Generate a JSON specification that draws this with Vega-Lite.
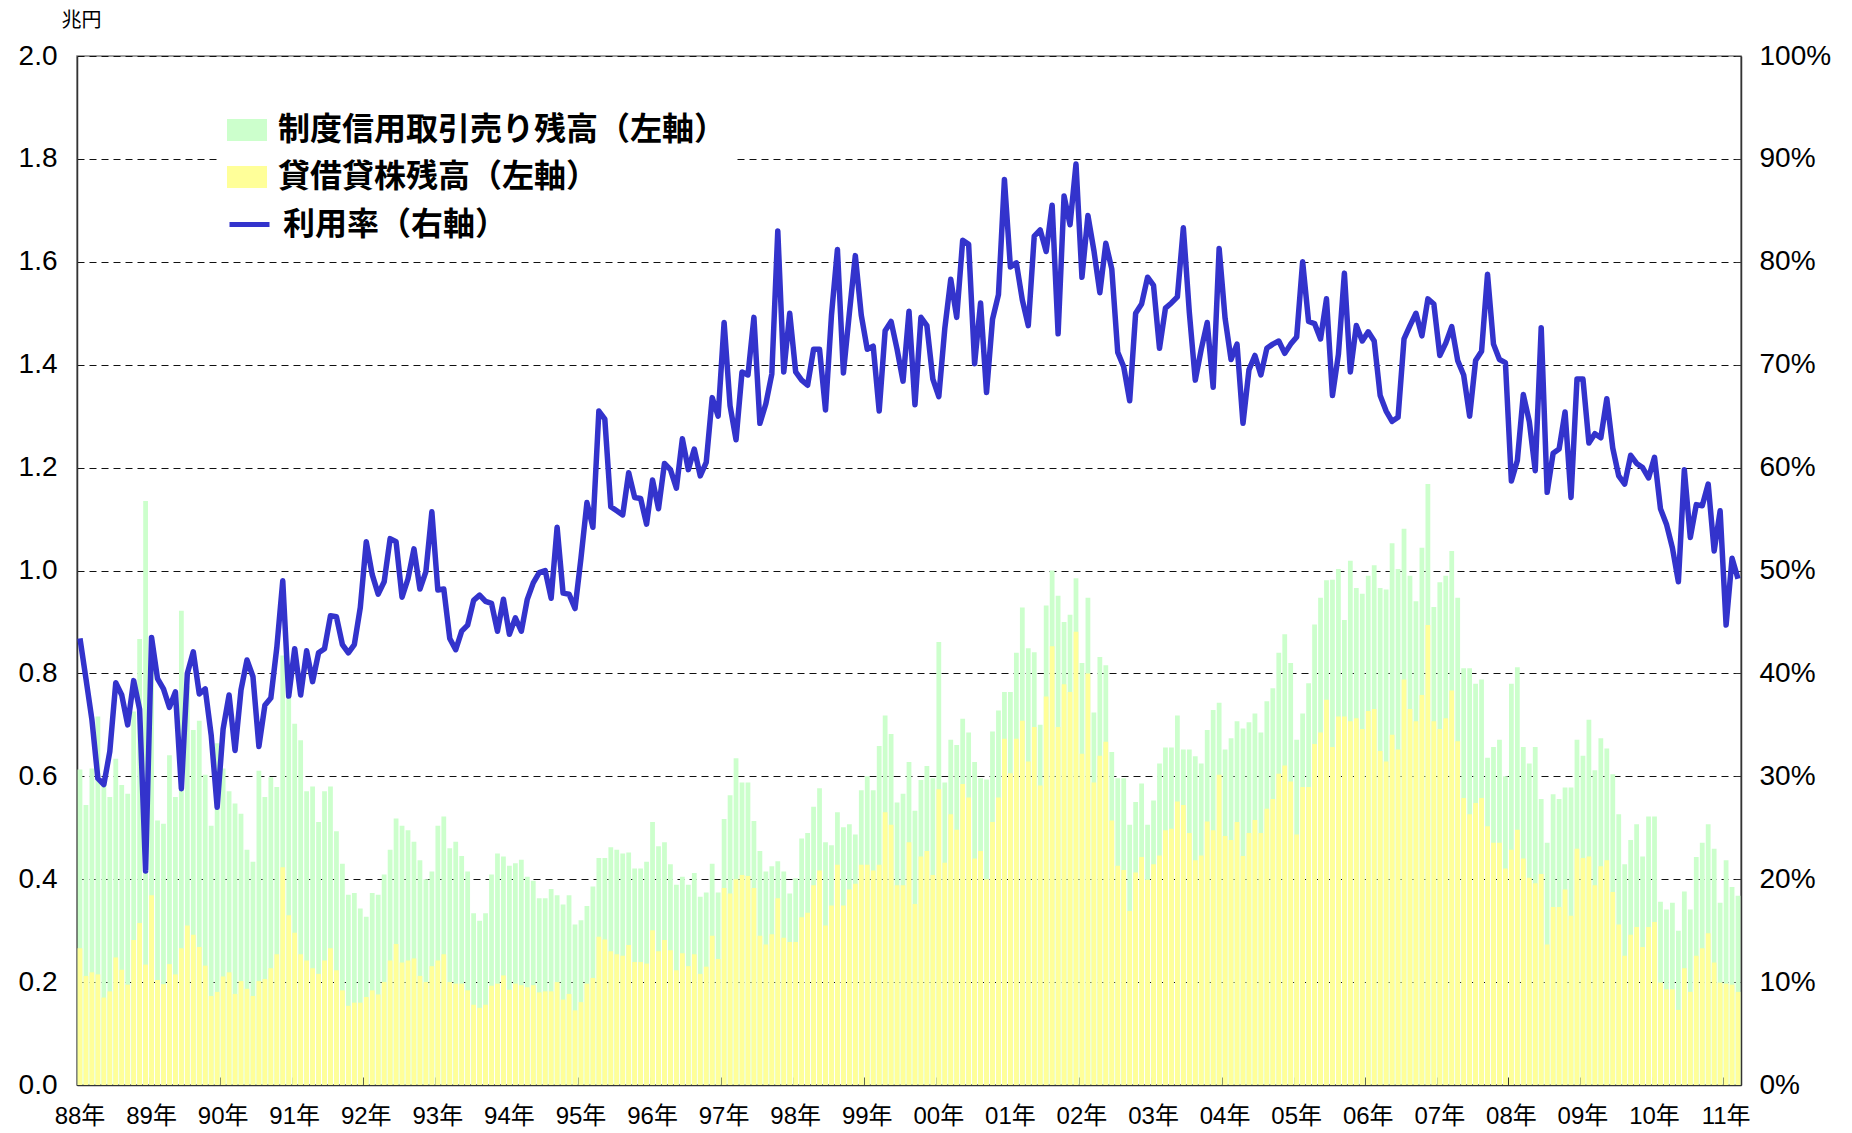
{
"$schema": "https://vega.github.io/schema/vega-lite/v6.json",
"width": 1664, "height": 1029,
"autosize": {"type": "none"},
"padding": {"left": 77, "top": 56, "right": 111, "bottom": 48},
"background": "white",
"config": {"view": {"stroke": "#808080", "strokeWidth": 1.5}, "font": "Liberation Sans"},
"data": {"values": [
{"ym":"1988-01","sell":0.613,"lend":0.266,"rate":43.4},{"ym":"1988-02","sell":0.544,"lend":0.212,"rate":39.5},{"ym":"1988-03","sell":0.615,"lend":0.219,"rate":35.5},{"ym":"1988-04","sell":0.716,"lend":0.215,"rate":29.8},{"ym":"1988-05","sell":0.589,"lend":0.170,"rate":29.2},{"ym":"1988-06","sell":0.560,"lend":0.182,"rate":32.4},{"ym":"1988-07","sell":0.634,"lend":0.248,"rate":39.1},{"ym":"1988-08","sell":0.583,"lend":0.224,"rate":37.9},{"ym":"1988-09","sell":0.566,"lend":0.195,"rate":35.0},{"ym":"1988-10","sell":0.726,"lend":0.282,"rate":39.3},{"ym":"1988-11","sell":0.867,"lend":0.315,"rate":36.5},{"ym":"1988-12","sell":1.135,"lend":0.234,"rate":20.8},
{"ym":"1989-01","sell":0.850,"lend":0.369,"rate":43.5},{"ym":"1989-02","sell":0.514,"lend":0.204,"rate":39.5},{"ym":"1989-03","sell":0.508,"lend":0.196,"rate":38.5},{"ym":"1989-04","sell":0.641,"lend":0.235,"rate":36.7},{"ym":"1989-05","sell":0.560,"lend":0.215,"rate":38.2},{"ym":"1989-06","sell":0.922,"lend":0.266,"rate":28.8},{"ym":"1989-07","sell":0.775,"lend":0.310,"rate":40.0},{"ym":"1989-08","sell":0.690,"lend":0.292,"rate":42.1},{"ym":"1989-09","sell":0.708,"lend":0.268,"rate":38.0},{"ym":"1989-10","sell":0.603,"lend":0.232,"rate":38.5},{"ym":"1989-11","sell":0.504,"lend":0.173,"rate":34.0},{"ym":"1989-12","sell":0.664,"lend":0.181,"rate":27.0},
{"ym":"1990-01","sell":0.615,"lend":0.211,"rate":34.6},{"ym":"1990-02","sell":0.571,"lend":0.219,"rate":37.9},{"ym":"1990-03","sell":0.547,"lend":0.177,"rate":32.5},{"ym":"1990-04","sell":0.527,"lend":0.202,"rate":38.4},{"ym":"1990-05","sell":0.457,"lend":0.187,"rate":41.3},{"ym":"1990-06","sell":0.434,"lend":0.173,"rate":39.7},{"ym":"1990-07","sell":0.611,"lend":0.202,"rate":32.9},{"ym":"1990-08","sell":0.560,"lend":0.206,"rate":36.9},{"ym":"1990-09","sell":0.598,"lend":0.227,"rate":37.6},{"ym":"1990-10","sell":0.579,"lend":0.254,"rate":42.5},{"ym":"1990-11","sell":0.835,"lend":0.423,"rate":49.0},{"ym":"1990-12","sell":0.754,"lend":0.330,"rate":37.8},
{"ym":"1991-01","sell":0.702,"lend":0.296,"rate":42.4},{"ym":"1991-02","sell":0.670,"lend":0.254,"rate":37.9},{"ym":"1991-03","sell":0.571,"lend":0.242,"rate":42.2},{"ym":"1991-04","sell":0.580,"lend":0.227,"rate":39.2},{"ym":"1991-05","sell":0.511,"lend":0.216,"rate":42.0},{"ym":"1991-06","sell":0.571,"lend":0.242,"rate":42.4},{"ym":"1991-07","sell":0.580,"lend":0.266,"rate":45.6},{"ym":"1991-08","sell":0.493,"lend":0.223,"rate":45.5},{"ym":"1991-09","sell":0.430,"lend":0.184,"rate":42.8},{"ym":"1991-10","sell":0.370,"lend":0.154,"rate":42.0},{"ym":"1991-11","sell":0.373,"lend":0.160,"rate":42.8},{"ym":"1991-12","sell":0.343,"lend":0.160,"rate":46.4},
{"ym":"1992-01","sell":0.327,"lend":0.171,"rate":52.8},{"ym":"1992-02","sell":0.373,"lend":0.184,"rate":49.6},{"ym":"1992-03","sell":0.370,"lend":0.176,"rate":47.7},{"ym":"1992-04","sell":0.409,"lend":0.200,"rate":48.9},{"ym":"1992-05","sell":0.457,"lend":0.242,"rate":53.1},{"ym":"1992-06","sell":0.518,"lend":0.274,"rate":52.8},{"ym":"1992-07","sell":0.504,"lend":0.238,"rate":47.4},{"ym":"1992-08","sell":0.495,"lend":0.242,"rate":49.2},{"ym":"1992-09","sell":0.473,"lend":0.246,"rate":52.1},{"ym":"1992-10","sell":0.437,"lend":0.212,"rate":48.2},{"ym":"1992-11","sell":0.400,"lend":0.200,"rate":49.9},{"ym":"1992-12","sell":0.415,"lend":0.231,"rate":55.7},
{"ym":"1993-01","sell":0.504,"lend":0.242,"rate":48.1},{"ym":"1993-02","sell":0.522,"lend":0.254,"rate":48.2},{"ym":"1993-03","sell":0.460,"lend":0.200,"rate":43.4},{"ym":"1993-04","sell":0.473,"lend":0.197,"rate":42.3},{"ym":"1993-05","sell":0.445,"lend":0.197,"rate":44.1},{"ym":"1993-06","sell":0.415,"lend":0.184,"rate":44.7},{"ym":"1993-07","sell":0.334,"lend":0.156,"rate":47.1},{"ym":"1993-08","sell":0.319,"lend":0.150,"rate":47.6},{"ym":"1993-09","sell":0.334,"lend":0.156,"rate":47.0},{"ym":"1993-10","sell":0.409,"lend":0.193,"rate":46.8},{"ym":"1993-11","sell":0.450,"lend":0.197,"rate":44.1},{"ym":"1993-12","sell":0.444,"lend":0.213,"rate":47.2},
{"ym":"1994-01","sell":0.426,"lend":0.185,"rate":43.8},{"ym":"1994-02","sell":0.431,"lend":0.197,"rate":45.4},{"ym":"1994-03","sell":0.438,"lend":0.194,"rate":44.1},{"ym":"1994-04","sell":0.405,"lend":0.190,"rate":47.2},{"ym":"1994-05","sell":0.397,"lend":0.194,"rate":48.8},{"ym":"1994-06","sell":0.363,"lend":0.180,"rate":49.8},{"ym":"1994-07","sell":0.363,"lend":0.182,"rate":50.0},{"ym":"1994-08","sell":0.381,"lend":0.182,"rate":47.3},{"ym":"1994-09","sell":0.369,"lend":0.200,"rate":54.2},{"ym":"1994-10","sell":0.351,"lend":0.166,"rate":47.8},{"ym":"1994-11","sell":0.369,"lend":0.177,"rate":47.7},{"ym":"1994-12","sell":0.312,"lend":0.145,"rate":46.3},
{"ym":"1995-01","sell":0.320,"lend":0.161,"rate":51.2},{"ym":"1995-02","sell":0.348,"lend":0.197,"rate":56.6},{"ym":"1995-03","sell":0.386,"lend":0.208,"rate":54.2},{"ym":"1995-04","sell":0.441,"lend":0.288,"rate":65.5},{"ym":"1995-05","sell":0.441,"lend":0.283,"rate":64.7},{"ym":"1995-06","sell":0.462,"lend":0.260,"rate":56.2},{"ym":"1995-07","sell":0.457,"lend":0.254,"rate":55.8},{"ym":"1995-08","sell":0.450,"lend":0.251,"rate":55.4},{"ym":"1995-09","sell":0.452,"lend":0.272,"rate":59.5},{"ym":"1995-10","sell":0.421,"lend":0.239,"rate":57.1},{"ym":"1995-11","sell":0.421,"lend":0.239,"rate":57.0},{"ym":"1995-12","sell":0.434,"lend":0.236,"rate":54.5},
{"ym":"1996-01","sell":0.511,"lend":0.301,"rate":58.8},{"ym":"1996-02","sell":0.464,"lend":0.260,"rate":56.0},{"ym":"1996-03","sell":0.472,"lend":0.282,"rate":60.4},{"ym":"1996-04","sell":0.429,"lend":0.262,"rate":59.8},{"ym":"1996-05","sell":0.389,"lend":0.223,"rate":58.0},{"ym":"1996-06","sell":0.405,"lend":0.256,"rate":62.8},{"ym":"1996-07","sell":0.389,"lend":0.231,"rate":59.8},{"ym":"1996-08","sell":0.412,"lend":0.254,"rate":61.8},{"ym":"1996-09","sell":0.366,"lend":0.216,"rate":59.2},{"ym":"1996-10","sell":0.374,"lend":0.230,"rate":60.5},{"ym":"1996-11","sell":0.430,"lend":0.290,"rate":66.8},{"ym":"1996-12","sell":0.374,"lend":0.245,"rate":65.0},
{"ym":"1997-01","sell":0.517,"lend":0.383,"rate":74.1},{"ym":"1997-02","sell":0.563,"lend":0.372,"rate":66.0},{"ym":"1997-03","sell":0.635,"lend":0.400,"rate":62.7},{"ym":"1997-04","sell":0.588,"lend":0.408,"rate":69.3},{"ym":"1997-05","sell":0.588,"lend":0.406,"rate":69.0},{"ym":"1997-06","sell":0.513,"lend":0.383,"rate":74.6},{"ym":"1997-07","sell":0.455,"lend":0.290,"rate":64.3},{"ym":"1997-08","sell":0.415,"lend":0.273,"rate":66.2},{"ym":"1997-09","sell":0.425,"lend":0.293,"rate":69.1},{"ym":"1997-10","sell":0.435,"lend":0.363,"rate":83.0},{"ym":"1997-11","sell":0.415,"lend":0.286,"rate":69.3},{"ym":"1997-12","sell":0.372,"lend":0.278,"rate":75.0},
{"ym":"1998-01","sell":0.402,"lend":0.278,"rate":69.3},{"ym":"1998-02","sell":0.479,"lend":0.326,"rate":68.5},{"ym":"1998-03","sell":0.490,"lend":0.335,"rate":68.0},{"ym":"1998-04","sell":0.541,"lend":0.388,"rate":71.5},{"ym":"1998-05","sell":0.577,"lend":0.417,"rate":71.5},{"ym":"1998-06","sell":0.472,"lend":0.310,"rate":65.6},{"ym":"1998-07","sell":0.466,"lend":0.349,"rate":74.8},{"ym":"1998-08","sell":0.530,"lend":0.428,"rate":81.2},{"ym":"1998-09","sell":0.501,"lend":0.349,"rate":69.2},{"ym":"1998-10","sell":0.507,"lend":0.380,"rate":75.0},{"ym":"1998-11","sell":0.487,"lend":0.391,"rate":80.6},{"ym":"1998-12","sell":0.573,"lend":0.428,"rate":74.8},
{"ym":"1999-01","sell":0.600,"lend":0.428,"rate":71.5},{"ym":"1999-02","sell":0.573,"lend":0.417,"rate":71.8},{"ym":"1999-03","sell":0.659,"lend":0.428,"rate":65.5},{"ym":"1999-04","sell":0.718,"lend":0.530,"rate":73.3},{"ym":"1999-05","sell":0.682,"lend":0.506,"rate":74.2},{"ym":"1999-06","sell":0.549,"lend":0.388,"rate":71.5},{"ym":"1999-07","sell":0.566,"lend":0.388,"rate":68.4},{"ym":"1999-08","sell":0.628,"lend":0.472,"rate":75.2},{"ym":"1999-09","sell":0.533,"lend":0.352,"rate":66.1},{"ym":"1999-10","sell":0.593,"lend":0.444,"rate":74.6},{"ym":"1999-11","sell":0.620,"lend":0.455,"rate":73.8},{"ym":"1999-12","sell":0.596,"lend":0.408,"rate":68.6},
{"ym":"2000-01","sell":0.861,"lend":0.575,"rate":66.9},{"ym":"2000-02","sell":0.588,"lend":0.432,"rate":73.5},{"ym":"2000-03","sell":0.671,"lend":0.526,"rate":78.3},{"ym":"2000-04","sell":0.661,"lend":0.496,"rate":74.6},{"ym":"2000-05","sell":0.712,"lend":0.585,"rate":82.1},{"ym":"2000-06","sell":0.685,"lend":0.559,"rate":81.7},{"ym":"2000-07","sell":0.628,"lend":0.440,"rate":70.1},{"ym":"2000-08","sell":0.596,"lend":0.455,"rate":76.0},{"ym":"2000-09","sell":0.594,"lend":0.400,"rate":67.3},{"ym":"2000-10","sell":0.687,"lend":0.511,"rate":74.4},{"ym":"2000-11","sell":0.728,"lend":0.559,"rate":76.8},{"ym":"2000-12","sell":0.764,"lend":0.673,"rate":88.0},
{"ym":"2001-01","sell":0.764,"lend":0.606,"rate":79.5},{"ym":"2001-02","sell":0.840,"lend":0.673,"rate":79.9},{"ym":"2001-03","sell":0.928,"lend":0.708,"rate":76.3},{"ym":"2001-04","sell":0.849,"lend":0.629,"rate":73.8},{"ym":"2001-05","sell":0.841,"lend":0.696,"rate":82.5},{"ym":"2001-06","sell":0.700,"lend":0.582,"rate":83.1},{"ym":"2001-07","sell":0.932,"lend":0.755,"rate":81.0},{"ym":"2001-08","sell":1.000,"lend":0.853,"rate":85.5},{"ym":"2001-09","sell":0.951,"lend":0.696,"rate":73.0},{"ym":"2001-10","sell":0.900,"lend":0.779,"rate":86.4},{"ym":"2001-11","sell":0.914,"lend":0.764,"rate":83.6},{"ym":"2001-12","sell":0.985,"lend":0.881,"rate":89.5},
{"ym":"2002-01","sell":0.820,"lend":0.644,"rate":78.5},{"ym":"2002-02","sell":0.947,"lend":0.800,"rate":84.5},{"ym":"2002-03","sell":0.724,"lend":0.588,"rate":81.1},{"ym":"2002-04","sell":0.832,"lend":0.640,"rate":77.0},{"ym":"2002-05","sell":0.816,"lend":0.667,"rate":81.8},{"ym":"2002-06","sell":0.647,"lend":0.514,"rate":79.3},{"ym":"2002-07","sell":0.596,"lend":0.426,"rate":71.2},{"ym":"2002-08","sell":0.596,"lend":0.418,"rate":69.8},{"ym":"2002-09","sell":0.506,"lend":0.338,"rate":66.5},{"ym":"2002-10","sell":0.550,"lend":0.413,"rate":75.0},{"ym":"2002-11","sell":0.586,"lend":0.443,"rate":75.9},{"ym":"2002-12","sell":0.506,"lend":0.399,"rate":78.5},
{"ym":"2003-01","sell":0.553,"lend":0.429,"rate":77.7},{"ym":"2003-02","sell":0.625,"lend":0.446,"rate":71.6},{"ym":"2003-03","sell":0.656,"lend":0.495,"rate":75.5},{"ym":"2003-04","sell":0.656,"lend":0.498,"rate":76.0},{"ym":"2003-05","sell":0.718,"lend":0.551,"rate":76.6},{"ym":"2003-06","sell":0.652,"lend":0.544,"rate":83.3},{"ym":"2003-07","sell":0.652,"lend":0.490,"rate":75.1},{"ym":"2003-08","sell":0.639,"lend":0.437,"rate":68.5},{"ym":"2003-09","sell":0.625,"lend":0.446,"rate":71.5},{"ym":"2003-10","sell":0.690,"lend":0.512,"rate":74.1},{"ym":"2003-11","sell":0.729,"lend":0.495,"rate":67.8},{"ym":"2003-12","sell":0.743,"lend":0.603,"rate":81.3},
{"ym":"2004-01","sell":0.652,"lend":0.484,"rate":74.5},{"ym":"2004-02","sell":0.674,"lend":0.476,"rate":70.5},{"ym":"2004-03","sell":0.707,"lend":0.511,"rate":72.0},{"ym":"2004-04","sell":0.693,"lend":0.445,"rate":64.3},{"ym":"2004-05","sell":0.705,"lend":0.490,"rate":69.5},{"ym":"2004-06","sell":0.722,"lend":0.515,"rate":70.9},{"ym":"2004-07","sell":0.685,"lend":0.490,"rate":69.0},{"ym":"2004-08","sell":0.746,"lend":0.537,"rate":71.6},{"ym":"2004-09","sell":0.771,"lend":0.556,"rate":72.0},{"ym":"2004-10","sell":0.840,"lend":0.605,"rate":72.3},{"ym":"2004-11","sell":0.876,"lend":0.621,"rate":71.1},{"ym":"2004-12","sell":0.820,"lend":0.590,"rate":72.0},
{"ym":"2005-01","sell":0.671,"lend":0.487,"rate":72.7},{"ym":"2005-02","sell":0.722,"lend":0.579,"rate":80.0},{"ym":"2005-03","sell":0.781,"lend":0.579,"rate":74.2},{"ym":"2005-04","sell":0.895,"lend":0.663,"rate":74.0},{"ym":"2005-05","sell":0.947,"lend":0.685,"rate":72.5},{"ym":"2005-06","sell":0.981,"lend":0.749,"rate":76.4},{"ym":"2005-07","sell":0.982,"lend":0.657,"rate":67.0},{"ym":"2005-08","sell":1.003,"lend":0.716,"rate":71.0},{"ym":"2005-09","sell":0.904,"lend":0.716,"rate":78.9},{"ym":"2005-10","sell":1.019,"lend":0.707,"rate":69.3},{"ym":"2005-11","sell":0.966,"lend":0.713,"rate":73.8},{"ym":"2005-12","sell":0.955,"lend":0.692,"rate":72.3},
{"ym":"2006-01","sell":0.990,"lend":0.727,"rate":73.2},{"ym":"2006-02","sell":1.010,"lend":0.731,"rate":72.3},{"ym":"2006-03","sell":0.966,"lend":0.649,"rate":67.0},{"ym":"2006-04","sell":0.963,"lend":0.629,"rate":65.5},{"ym":"2006-05","sell":1.053,"lend":0.681,"rate":64.5},{"ym":"2006-06","sell":1.003,"lend":0.652,"rate":64.9},{"ym":"2006-07","sell":1.081,"lend":0.788,"rate":72.5},{"ym":"2006-08","sell":0.990,"lend":0.731,"rate":73.8},{"ym":"2006-09","sell":0.940,"lend":0.707,"rate":75.0},{"ym":"2006-10","sell":1.044,"lend":0.758,"rate":72.8},{"ym":"2006-11","sell":1.168,"lend":0.894,"rate":76.4},{"ym":"2006-12","sell":0.929,"lend":0.707,"rate":75.9},
{"ym":"2007-01","sell":0.977,"lend":0.692,"rate":70.9},{"ym":"2007-02","sell":0.990,"lend":0.713,"rate":72.1},{"ym":"2007-03","sell":1.038,"lend":0.767,"rate":73.7},{"ym":"2007-04","sell":0.947,"lend":0.668,"rate":70.4},{"ym":"2007-05","sell":0.810,"lend":0.558,"rate":69.0},{"ym":"2007-06","sell":0.810,"lend":0.526,"rate":65.0},{"ym":"2007-07","sell":0.780,"lend":0.548,"rate":70.4},{"ym":"2007-08","sell":0.788,"lend":0.558,"rate":71.3},{"ym":"2007-09","sell":0.636,"lend":0.503,"rate":78.8},{"ym":"2007-10","sell":0.657,"lend":0.471,"rate":72.0},{"ym":"2007-11","sell":0.671,"lend":0.471,"rate":70.5},{"ym":"2007-12","sell":0.600,"lend":0.421,"rate":70.2},
{"ym":"2008-01","sell":0.780,"lend":0.457,"rate":58.7},{"ym":"2008-02","sell":0.812,"lend":0.496,"rate":60.7},{"ym":"2008-03","sell":0.657,"lend":0.440,"rate":67.1},{"ym":"2008-04","sell":0.625,"lend":0.403,"rate":64.5},{"ym":"2008-05","sell":0.657,"lend":0.392,"rate":59.7},{"ym":"2008-06","sell":0.556,"lend":0.410,"rate":73.6},{"ym":"2008-07","sell":0.471,"lend":0.273,"rate":57.6},{"ym":"2008-08","sell":0.565,"lend":0.346,"rate":61.4},{"ym":"2008-09","sell":0.556,"lend":0.346,"rate":61.8},{"ym":"2008-10","sell":0.578,"lend":0.380,"rate":65.4},{"ym":"2008-11","sell":0.578,"lend":0.329,"rate":57.1},{"ym":"2008-12","sell":0.671,"lend":0.459,"rate":68.6},
{"ym":"2009-01","sell":0.640,"lend":0.441,"rate":68.6},{"ym":"2009-02","sell":0.710,"lend":0.444,"rate":62.4},{"ym":"2009-03","sell":0.612,"lend":0.388,"rate":63.3},{"ym":"2009-04","sell":0.674,"lend":0.425,"rate":62.9},{"ym":"2009-05","sell":0.654,"lend":0.437,"rate":66.7},{"ym":"2009-06","sell":0.604,"lend":0.375,"rate":61.9},{"ym":"2009-07","sell":0.526,"lend":0.312,"rate":59.2},{"ym":"2009-08","sell":0.429,"lend":0.251,"rate":58.4},{"ym":"2009-09","sell":0.476,"lend":0.292,"rate":61.2},{"ym":"2009-10","sell":0.507,"lend":0.307,"rate":60.4},{"ym":"2009-11","sell":0.444,"lend":0.268,"rate":60.0},{"ym":"2009-12","sell":0.522,"lend":0.307,"rate":59.0},
{"ym":"2010-01","sell":0.522,"lend":0.317,"rate":61.0},{"ym":"2010-02","sell":0.356,"lend":0.199,"rate":56.0},{"ym":"2010-03","sell":0.341,"lend":0.186,"rate":54.5},{"ym":"2010-04","sell":0.354,"lend":0.186,"rate":52.2},{"ym":"2010-05","sell":0.300,"lend":0.146,"rate":48.9},{"ym":"2010-06","sell":0.376,"lend":0.227,"rate":59.8},{"ym":"2010-07","sell":0.341,"lend":0.181,"rate":53.2},{"ym":"2010-08","sell":0.443,"lend":0.251,"rate":56.4},{"ym":"2010-09","sell":0.471,"lend":0.266,"rate":56.3},{"ym":"2010-10","sell":0.507,"lend":0.295,"rate":58.4},{"ym":"2010-11","sell":0.459,"lend":0.238,"rate":51.9},{"ym":"2010-12","sell":0.354,"lend":0.199,"rate":55.8},
{"ym":"2011-01","sell":0.437,"lend":0.197,"rate":44.7},{"ym":"2011-02","sell":0.385,"lend":0.195,"rate":51.2},{"ym":"2011-03","sell":0.368,"lend":0.181,"rate":49.2}
]},
"encoding": {
  "x": {"field": "ym", "type": "ordinal", "scale": {"paddingInner": 0.2, "paddingOuter": 0.1},
    "axis": {"title": null, "values": ["1988-01","1989-01","1990-01","1991-01","1992-01","1993-01","1994-01","1995-01","1996-01","1997-01","1998-01","1999-01","2000-01","2001-01","2002-01","2003-01","2004-01","2005-01","2006-01","2007-01","2008-01","2009-01","2010-01","2011-01"],
      "labelExpr": "slice(datum.value, 2, 4) + '年'", "labelAngle": 0, "bandPosition": 0,
      "tickSize": -8, "tickColor": "#333", "domainColor": "#333", "domainWidth": 1.5,
      "labelFont": "Liberation Sans, Noto Sans CJK JP", "labelFontSize": 24, "labelColor": "#000", "labelPadding": 27, "grid": false}}
},
"layer": [
  {"layer": [
    {"mark": {"type": "bar"},
     "encoding": {
       "y": {"field": "sell", "type": "quantitative", "scale": {"domain": [0, 2], "nice": false},
         "axis": {"values": [0,0.2,0.4,0.6,0.8,1.0,1.2,1.4,1.6,1.8,2.0], "format": ".1f", "ticks": false,
           "labelFontSize": 28, "labelColor": "#000", "labelPadding": 20, "domainColor": "#333", "domainWidth": 1.5,
           "grid": true, "gridDash": [7, 5], "gridColor": "#111", "gridWidth": 1,
           "title": "兆円", "titleAngle": 0, "titleX": 4, "titleY": -36, "titleAlign": "center", "titleBaseline": "middle",
           "titleFont": "Noto Sans CJK JP", "titleFontSize": 20, "titleFontWeight": "normal", "titleColor": "#000"}},
       "fill": {"datum": "制度信用取引売り残高（左軸）", "type": "nominal",
         "scale": {"domain": ["制度信用取引売り残高（左軸）", "貸借貸株残高（左軸）"], "range": ["#CCFFCC", "#FFFF99"]},
         "legend": {"orient": "none", "legendX": 140, "legendY": 44, "direction": "vertical", "title": null,
           "symbolType": "M-1,-0.55H1V0.55H-1Z", "symbolSize": 1600, "symbolOpacity": 1, "symbolStrokeWidth": 0,
           "labelFont": "Noto Sans CJK JP", "labelFontSize": 32, "labelFontWeight": "bold", "labelColor": "#000",
           "labelOffset": 11, "labelLimit": 900, "rowPadding": 11, "padding": 10, "fillColor": "white"}}
     }},
    {"mark": {"type": "bar"},
     "encoding": {
       "y": {"field": "lend", "type": "quantitative"},
       "fill": {"datum": "貸借貸株残高（左軸）", "type": "nominal"}
     }}
  ]},
  {"mark": {"type": "line", "strokeWidth": 5.5, "strokeJoin": "round"},
   "encoding": {
     "y": {"field": "rate", "type": "quantitative", "scale": {"domain": [0, 100], "nice": false},
       "axis": {"orient": "right", "values": [0,10,20,30,40,50,60,70,80,90,100], "labelExpr": "datum.value + '%'",
         "tickSize": -6, "tickColor": "#333", "labelFontSize": 28, "labelColor": "#000", "labelPadding": 24,
         "domainColor": "#333", "domainWidth": 1.5, "grid": false, "title": null}},
     "stroke": {"datum": "利用率（右軸）", "type": "nominal", "scale": {"range": ["#3333CC"]},
       "legend": {"orient": "none", "legendX": 140, "legendY": 136, "title": null, "symbolType": "stroke",
         "symbolSize": 1600, "symbolStrokeWidth": 5, "labelFont": "Noto Sans CJK JP", "labelFontSize": 32,
         "labelFontWeight": "bold", "labelColor": "#000", "labelOffset": 11, "labelLimit": 900, "padding": 10, "fillColor": "white"}}
   }}
],
"resolve": {"scale": {"y": "independent"}}
}
